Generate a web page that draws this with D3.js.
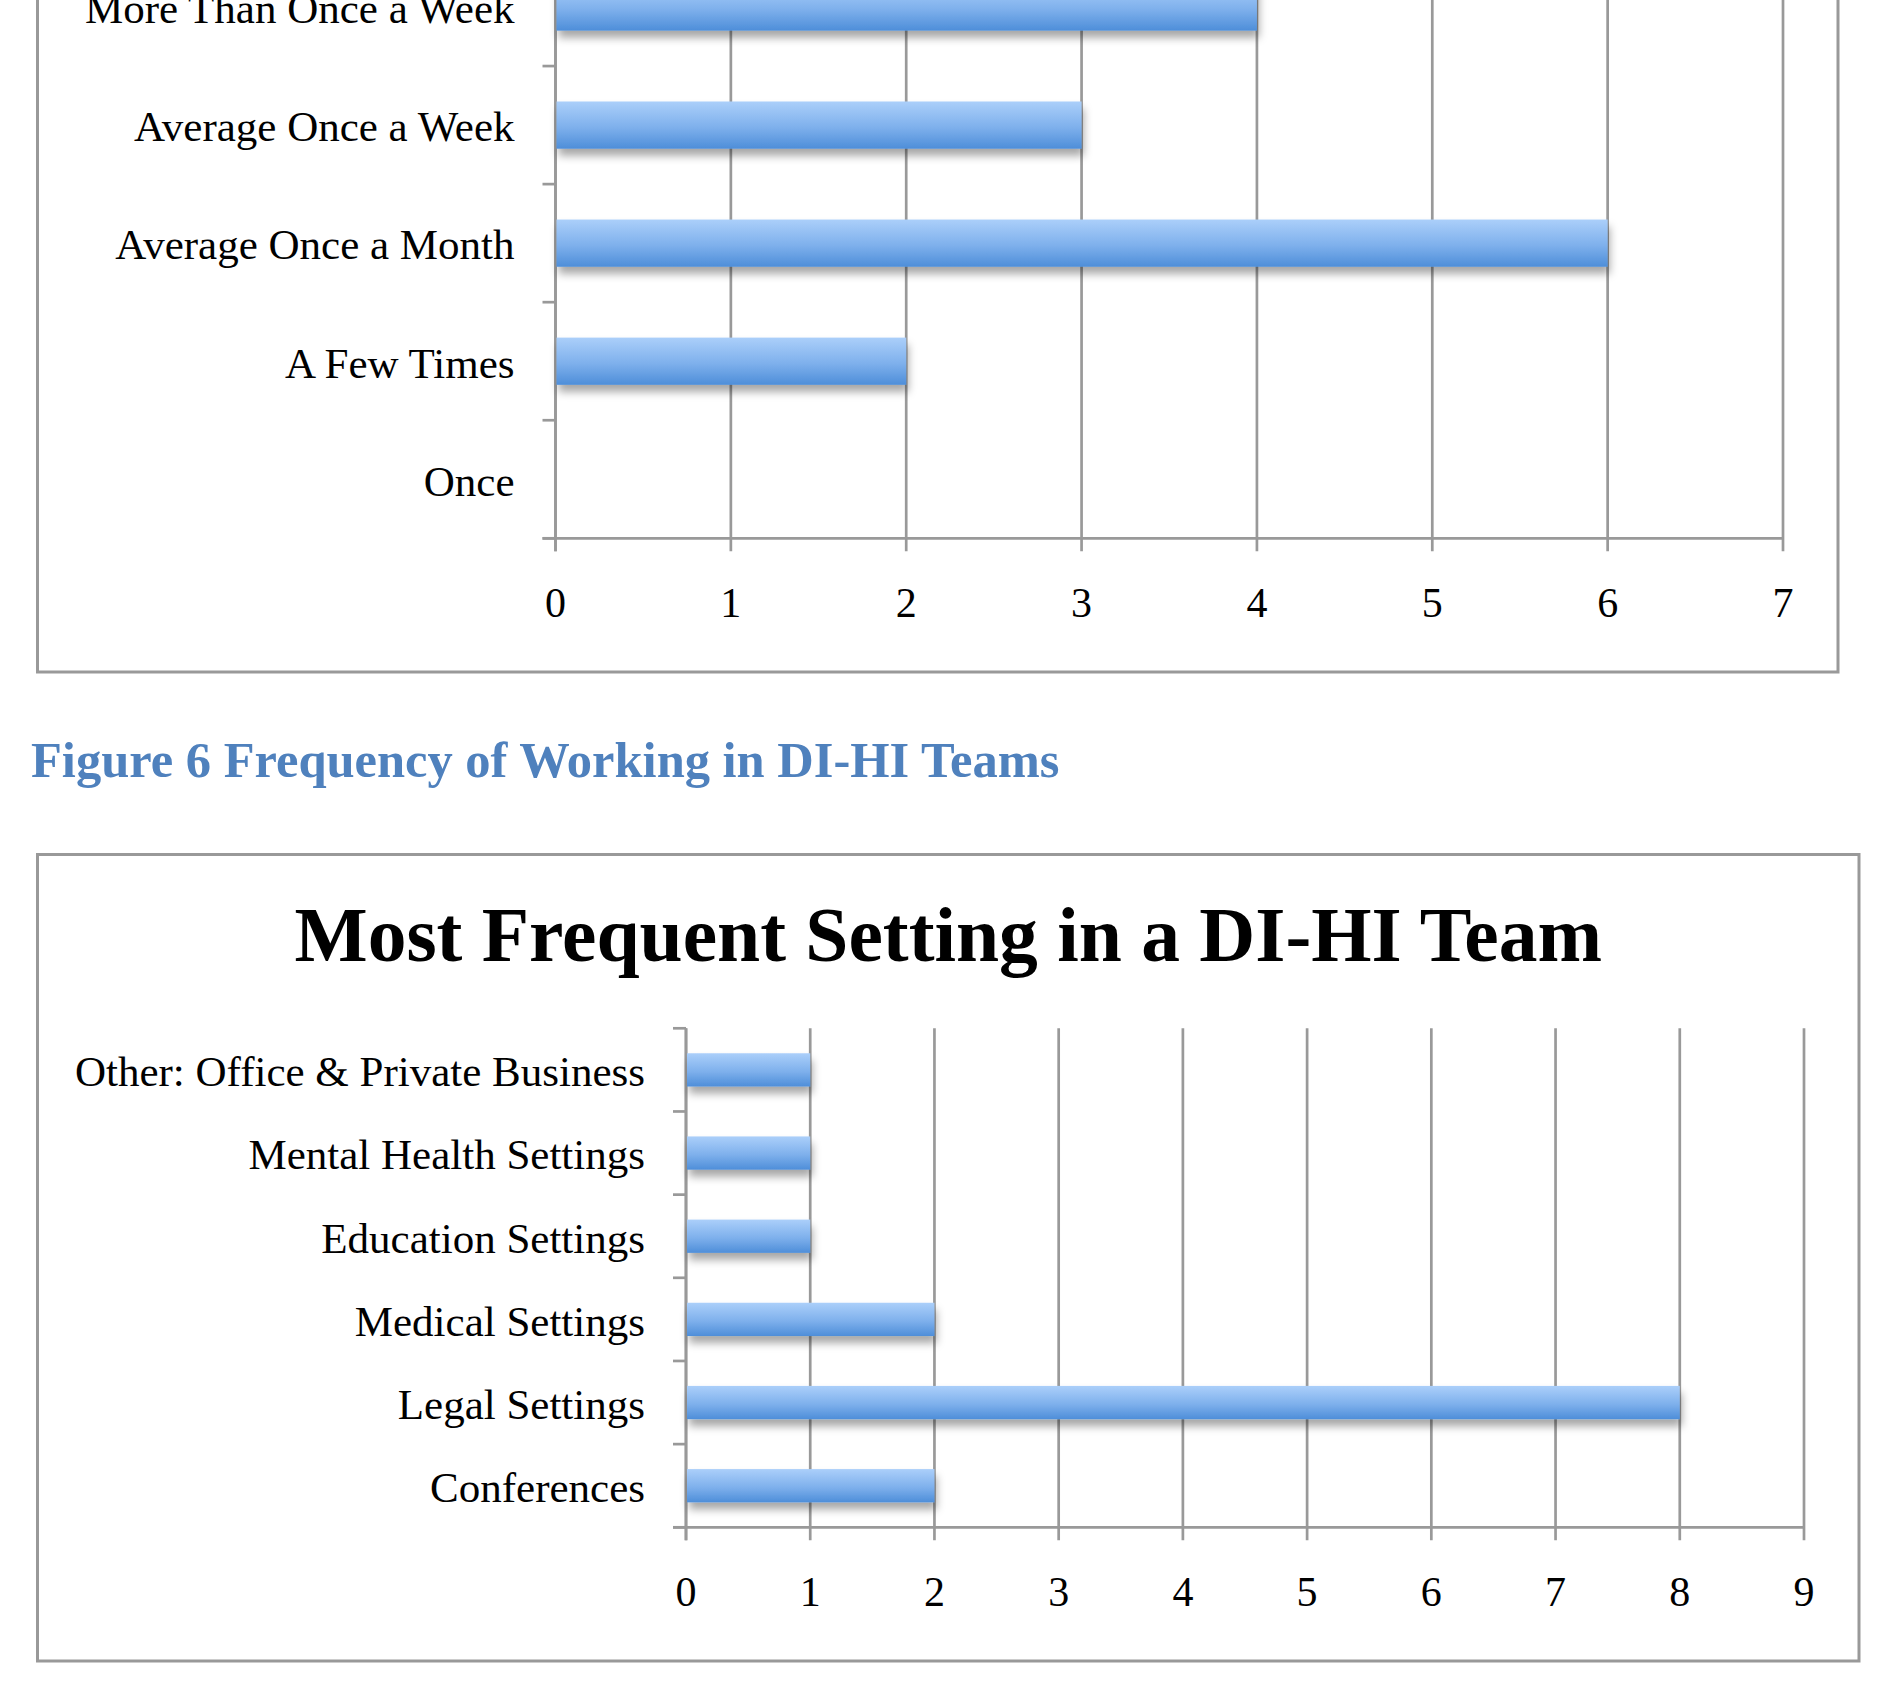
<!DOCTYPE html>
<html>
<head>
<meta charset="utf-8">
<script src="https://cdn.jsdelivr.net/npm/d3@7"></script>
<style>
  body { margin: 0; background: #fff; }
  svg { display: block; }
</style>
</head>
<body>
<div id="page"></div>
<script>
// top chart (partly cut off by the page edge)
var freq_categories = ["More Than Once a Week", "Average Once a Week", "Average Once a Month", "A Few Times", "Once"];
var freq_values = [4, 3, 6, 2, 0];
var freq_ticks = [0, 1, 2, 3, 4, 5, 6, 7];

// bottom chart
var setting_title = "Most Frequent Setting in a DI-HI Team";
var setting_categories = ["Other: Office & Private Business", "Mental Health Settings", "Education Settings", "Medical Settings", "Legal Settings", "Conferences"];
var setting_values = [1, 1, 1, 2, 8, 2];
var setting_ticks = [0, 1, 2, 3, 4, 5, 6, 7, 8, 9];

var caption_text = "Figure 6 Frequency of Working in DI-HI Teams";

var W = 1892, H = 1701;
var gridColor = "#999999";
var labelFont = "'Liberation Serif', 'Times New Roman', serif";

var svg = d3.select("#page").append("svg")
  .attr("width", W)
  .attr("height", H);

svg.append("rect").attr("width", W).attr("height", H).attr("fill", "#fff");

var defs = svg.append("defs");
var grad = defs.append("linearGradient")
  .attr("id", "barGrad")
  .attr("x1", 0).attr("y1", 0).attr("x2", 0).attr("y2", 1);
grad.append("stop").attr("offset", "0%").attr("stop-color", "#abcffa");
grad.append("stop").attr("offset", "55%").attr("stop-color", "#7eb0ec");
grad.append("stop").attr("offset", "100%").attr("stop-color", "#4e8ed9");

var shadow = defs.append("filter")
  .attr("id", "barShadow")
  .attr("x", "-5%").attr("y", "-30%")
  .attr("width", "115%").attr("height", "180%");
shadow.append("feDropShadow")
  .attr("dx", 2).attr("dy", 7)
  .attr("stdDeviation", 4)
  .attr("flood-color", "#000")
  .attr("flood-opacity", 0.35);

// draws one horizontal bar chart into the page
function drawBarChart(opts) {
  var g = svg.append("g");

  var x = d3.scaleLinear()
    .domain([0, d3.max(opts.ticks)])
    .range([opts.left, opts.right]);

  var y = d3.scaleBand()
    .domain(opts.categories)
    .range([opts.top, opts.bottom])
    .paddingInner(0.6)
    .paddingOuter(0.3);

  var tickLen = 13;
  var gridTop = Math.max(opts.top, -5);

  // vertical gridlines + ticks under the axis
  g.selectAll(".grid")
    .data(opts.ticks)
    .enter()
    .append("line")
    .attr("x1", function(d) { return x(d); })
    .attr("x2", function(d) { return x(d); })
    .attr("y1", gridTop)
    .attr("y2", opts.bottom + tickLen)
    .attr("stroke", gridColor)
    .attr("stroke-width", 2.7);

  // category axis line and tick marks
  g.append("line")
    .attr("x1", opts.left).attr("x2", opts.left)
    .attr("y1", gridTop).attr("y2", opts.bottom + tickLen)
    .attr("stroke", gridColor).attr("stroke-width", 2.7);

  var bounds = d3.range(opts.categories.length + 1).map(function(i) {
    return opts.top + i * y.step();
  });
  g.selectAll(".ytick")
    .data(bounds)
    .enter()
    .append("line")
    .attr("x1", opts.left - tickLen).attr("x2", opts.left)
    .attr("y1", function(d) { return d; })
    .attr("y2", function(d) { return d; })
    .attr("stroke", gridColor).attr("stroke-width", 2.7);

  // value axis line
  g.append("line")
    .attr("x1", opts.left - tickLen).attr("x2", opts.right)
    .attr("y1", opts.bottom).attr("y2", opts.bottom)
    .attr("stroke", gridColor).attr("stroke-width", 2.7);

  // bars
  g.selectAll(".bar")
    .data(opts.values)
    .enter()
    .append("rect")
    .filter(function(d) { return d > 0; })
    .attr("x", x(0) + 1)
    .attr("y", function(d, i) { return y(opts.categories[i]); })
    .attr("width", function(d) { return x(d) - x(0) - 1; })
    .attr("height", y.bandwidth())
    .attr("fill", "url(#barGrad)")
    .attr("filter", "url(#barShadow)");

  // category labels
  g.selectAll(".ylabel")
    .data(opts.categories)
    .enter()
    .append("text")
    .attr("x", opts.left - 41)
    .attr("y", function(d) { return y(d) + y.bandwidth() / 2; })
    .attr("dy", "0.38em")
    .attr("text-anchor", "end")
    .style("font-family", labelFont)
    .style("font-size", "43px")
    .style("fill", "#000")
    .text(function(d) { return d; });

  // value tick labels
  g.selectAll(".xlabel")
    .data(opts.ticks)
    .enter()
    .append("text")
    .attr("x", function(d) { return x(d); })
    .attr("y", opts.bottom + 79)
    .attr("text-anchor", "middle")
    .style("font-family", labelFont)
    .style("font-size", "42px")
    .style("fill", "#000")
    .text(function(d) { return d; });

  return g;
}

// ---- top chart frame + chart
svg.append("rect")
  .attr("x", 37.5).attr("y", -20)
  .attr("width", 1838 - 37.5).attr("height", 672 + 20)
  .attr("fill", "none")
  .attr("stroke", gridColor).attr("stroke-width", 3);

drawBarChart({
  categories: freq_categories,
  values: freq_values,
  ticks: freq_ticks,
  left: 555.5, right: 1783,
  top: -52, bottom: 538.3
});

// ---- figure caption
svg.append("text")
  .attr("x", 31)
  .attr("y", 777)
  .style("font-family", labelFont)
  .style("font-weight", "bold")
  .style("font-size", "50.5px")
  .style("fill", "#4f81bd")
  .text(caption_text);

// ---- bottom chart frame + chart
svg.append("rect")
  .attr("x", 37.5).attr("y", 854.5)
  .attr("width", 1859 - 37.5).attr("height", 1661 - 854.5)
  .attr("fill", "none")
  .attr("stroke", gridColor).attr("stroke-width", 3);

svg.append("text")
  .attr("x", (37.5 + 1859) / 2)
  .attr("y", 961)
  .attr("text-anchor", "middle")
  .style("font-family", labelFont)
  .style("font-weight", "bold")
  .style("font-size", "77.5px")
  .style("fill", "#000")
  .text(setting_title);

drawBarChart({
  categories: setting_categories,
  values: setting_values,
  ticks: setting_ticks,
  left: 686, right: 1804,
  top: 1028.3, bottom: 1527.3
});
</script>
</body>
</html>
